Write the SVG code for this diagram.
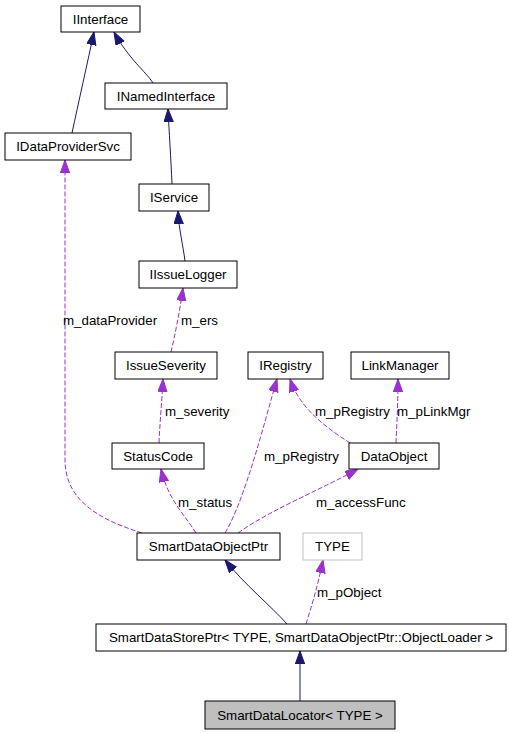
<svg xmlns="http://www.w3.org/2000/svg" width="509" height="733" viewBox="0 0 509 733">
<style>
text{font-family:"Liberation Sans",Arial,sans-serif;font-size:13.33px;fill:#000}
.n rect{fill:#fff;stroke:#000;stroke-width:1}
.n text{text-anchor:middle}
.inh{fill:none;stroke:#191970;stroke-width:1}
.use{fill:none;stroke:#9a32cd;stroke-width:1;stroke-dasharray:5,2}
.lbl{text-anchor:start}
</style>
<defs>
<marker id="ab" markerUnits="userSpaceOnUse" markerWidth="14" markerHeight="10" refX="13" refY="4.7" orient="auto"><path d="M0,0 L13,4.7 L0,9.4 z" fill="#191970" stroke="#191970"/></marker>
<marker id="ap" markerUnits="userSpaceOnUse" markerWidth="14" markerHeight="10" refX="13" refY="4.7" orient="auto"><path d="M0,0 L13,4.7 L0,9.4 z" fill="#9a32cd" stroke="#9a32cd"/></marker>
</defs>
<rect width="509" height="733" fill="#fff"/>
<g id="edges">
<path class="inh" d="M72,133 C78,105 88,60 94,32" marker-end="url(#ab)"/>
<path class="inh" d="M153,83 C146,72 128,58 114,32" marker-end="url(#ab)"/>
<path class="inh" d="M172,184 C171,160 169,130 168,109" marker-end="url(#ab)"/>
<path class="inh" d="M185,261 C183,245 179,230 178,211" marker-end="url(#ab)"/>
<path class="use" d="M171,352 C175,335 180,310 183,288" marker-end="url(#ap)"/>
<path class="use" d="M159,443 C160,420 162,400 163,379" marker-end="url(#ap)"/>
<path class="use" d="M142,533 C108,522 65,505 65,460 L65,160" marker-end="url(#ap)"/>
<path class="use" d="M196,533 C185,515 168,500 161,469" marker-end="url(#ap)"/>
<path class="use" d="M225,533 C245,500 265,420 277,379" marker-end="url(#ap)"/>
<path class="use" d="M238,533 C270,510 320,490 358,469" marker-end="url(#ap)"/>
<path class="use" d="M350,443 C330,430 300,410 290,379" marker-end="url(#ap)"/>
<path class="use" d="M396,443 C397,420 398,400 398,379" marker-end="url(#ap)"/>
<path class="inh" d="M287,624 C270,605 245,585 225,560" marker-end="url(#ab)"/>
<path class="use" d="M306,624 C312,605 318,585 323,560" marker-end="url(#ap)"/>
<path class="inh" d="M300,701 L300,651" marker-end="url(#ab)"/>
<text class="lbl" x="181" y="325">m_ers</text>
<text class="lbl" x="165" y="416">m_severity</text>
<text class="lbl" x="63" y="325">m_dataProvider</text>
<text class="lbl" x="178" y="507">m_status</text>
<text class="lbl" x="264" y="461">m_pRegistry</text>
<text class="lbl" x="316" y="507">m_accessFunc</text>
<text class="lbl" x="315" y="416">m_pRegistry</text>
<text class="lbl" x="397" y="416">m_pLinkMgr</text>
<text class="lbl" x="317" y="597">m_pObject</text>
</g>
<g id="IInterface" class="n"><rect x="61" y="6" width="79" height="26"/><text x="100.5" y="23.7">IInterface</text></g>
<g id="INamedInterface" class="n"><rect x="105" y="83" width="122" height="26"/><text x="166" y="100.7">INamedInterface</text></g>
<g id="IDataProviderSvc" class="n"><rect x="5" y="133" width="126" height="27"/><text x="68" y="151.2">IDataProviderSvc</text></g>
<g id="IService" class="n"><rect x="139" y="184" width="70" height="27"/><text x="174" y="202.2">IService</text></g>
<g id="IIssueLogger" class="n"><rect x="139" y="261" width="98" height="27"/><text x="188" y="279.2">IIssueLogger</text></g>
<g id="IssueSeverity" class="n"><rect x="115" y="352" width="102" height="27"/><text x="166" y="370.2">IssueSeverity</text></g>
<g id="IRegistry" class="n"><rect x="248" y="352" width="75" height="27"/><text x="285.5" y="370.2">IRegistry</text></g>
<g id="LinkManager" class="n"><rect x="351" y="352" width="98" height="27"/><text x="400" y="370.2">LinkManager</text></g>
<g id="StatusCode" class="n"><rect x="112" y="443" width="92" height="26"/><text x="158" y="460.7">StatusCode</text></g>
<g id="DataObject" class="n"><rect x="349" y="443" width="90" height="26"/><text x="394" y="460.7">DataObject</text></g>
<g id="SmartDataObjectPtr" class="n"><rect x="137" y="533" width="143" height="27"/><text x="208.5" y="551.2">SmartDataObjectPtr</text></g>
<g id="TYPE" class="n"><rect x="303" y="533" width="59" height="27" style="stroke:#bfbfbf"/><text x="332.5" y="551.2">TYPE</text></g>
<g id="SmartDataStorePtr" class="n"><rect x="96" y="624" width="410" height="27"/><text x="301" y="642.2">SmartDataStorePtr&lt; TYPE, SmartDataObjectPtr::ObjectLoader &gt;</text></g>
<g id="SmartDataLocator" class="n"><rect x="205" y="701" width="190" height="28" style="fill:#bfbfbf"/><text x="300" y="719.7">SmartDataLocator&lt; TYPE &gt;</text></g>
</svg>
